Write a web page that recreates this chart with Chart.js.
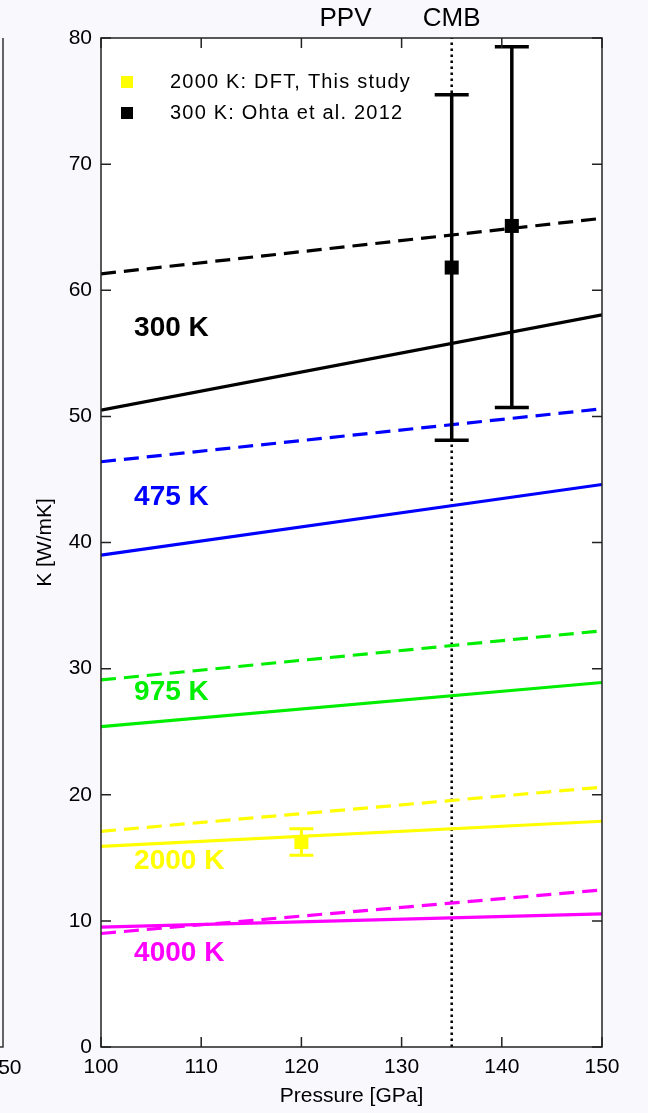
<!DOCTYPE html>
<html><head><meta charset="utf-8">
<script src="https://cdn.jsdelivr.net/npm/chart.js@4"></script>
<style>html,body{margin:0;padding:0;background:#f9f8fd;}canvas{display:block;}</style>
</head><body>
<canvas id="c" width="648" height="1113"></canvas>
<script>
// ---- data ----
const pressure = [100, 150];
const k300Dashed  = [61.3, 65.7];
const k300Solid   = [50.5, 58.05];
const k475Dashed  = [46.4, 50.6];
const k475Solid   = [39.0, 44.6];
const k975Dashed  = [29.1, 33.0];
const k975Solid   = [25.4, 28.9];
const k2000Dashed = [17.1, 20.6];
const k2000Solid  = [15.9, 17.9];
const k4000Dashed = [9.0, 12.45];
const k4000Solid  = [9.5, 10.55];
const dftP = [120];   const dftK = [16.25];  const dftLo = [15.2];  const dftHi = [17.3];
const ohtaP = [135, 141]; const ohtaK = [61.8, 65.1]; const ohtaLo = [48.1, 50.7]; const ohtaHi = [75.5, 79.3];
const cmbP = 135; const ppvP = 124.4;
const xTicks = [100, 110, 120, 130, 140, 150];
const yTicks = [0, 10, 20, 30, 40, 50, 60, 70, 80];
const tempLabels = ['300 K', '475 K', '975 K', '2000 K', '4000 K'];
const tempLabelY = [57.0, 43.6, 28.1, 14.7, 7.45];
const tempColors = ['#000000', '#0000ff', '#00ee00', '#ffff00', '#ff00ff'];
const legendLabels = ['2000 K: DFT, This study', '300 K: Ohta et al. 2012'];

const FONT = '"Liberation Sans", Arial, sans-serif';
const pts = arr => pressure.map((p, i) => ({x: p, y: arr[i]}));
function line(arr, color, dashed) {
  return {type: 'line', data: pts(arr), borderColor: color, borderWidth: 3.2,
    borderDash: dashed ? [15, 8] : [], pointRadius: 0, fill: false, tension: 0};
}
const datasets = [
  line(k300Dashed, tempColors[0], true), line(k300Solid, tempColors[0], false),
  line(k475Dashed, tempColors[1], true), line(k475Solid, tempColors[1], false),
  line(k975Dashed, tempColors[2], true), line(k975Solid, tempColors[2], false),
  line(k2000Dashed, tempColors[3], true), line(k2000Solid, tempColors[3], false),
  line(k4000Dashed, tempColors[4], true), line(k4000Solid, tempColors[4], false),
  {type: 'line', data: [{x: cmbP, y: 0}, {x: cmbP, y: 80}], borderColor: '#000', borderWidth: 2.5,
   borderDash: [2.5, 3.5], pointRadius: 0},
];

const errPlugin = {
  id: 'extras',
  beforeDraw(chart) {
    const {ctx, chartArea: a} = chart;
    ctx.save(); ctx.fillStyle = '#ffffff';
    ctx.fillRect(a.left, a.top, a.right - a.left, a.bottom - a.top);
    // partial left panel edge
    ctx.strokeStyle = '#333'; ctx.lineWidth = 1.5;
    ctx.beginPath(); ctx.moveTo(3, a.top); ctx.lineTo(3, a.bottom); ctx.lineTo(0, a.bottom); ctx.stroke();
    ctx.fillStyle = '#000'; ctx.font = '21px ' + FONT; ctx.textAlign = 'center'; ctx.textBaseline = 'middle';
    ctx.fillText('150', 4, 1068);
    ctx.restore();
  },
  afterDatasetsDraw(chart) {
    const {ctx, chartArea: a, scales: {x, y}} = chart;
    ctx.save();
    function errbar(p, k, lo, hi, color, cap, lw, size) {
      const px = x.getPixelForValue(p);
      ctx.strokeStyle = color; ctx.fillStyle = color; ctx.lineWidth = lw;
      ctx.beginPath();
      ctx.moveTo(px, y.getPixelForValue(lo)); ctx.lineTo(px, y.getPixelForValue(hi));
      ctx.moveTo(px - cap / 2, y.getPixelForValue(lo)); ctx.lineTo(px + cap / 2, y.getPixelForValue(lo));
      ctx.moveTo(px - cap / 2, y.getPixelForValue(hi)); ctx.lineTo(px + cap / 2, y.getPixelForValue(hi));
      ctx.stroke();
      const py = y.getPixelForValue(k);
      ctx.fillRect(px - size / 2, py - size / 2, size, size);
    }
    dftP.forEach((p, i) => errbar(p, dftK[i], dftLo[i], dftHi[i], '#ffff00', 24, 3, 14));
    ohtaP.forEach((p, i) => errbar(p, ohtaK[i], ohtaLo[i], ohtaHi[i], '#000000', 34, 3.5, 14));
    // temperature labels
    ctx.font = 'bold 28px ' + FONT; ctx.textAlign = 'left'; ctx.textBaseline = 'middle';
    tempLabels.forEach((t, i) => {
      ctx.fillStyle = tempColors[i];
      ctx.fillText(t, x.getPixelForValue(103.3), y.getPixelForValue(tempLabelY[i]));
    });
    // legend
    ctx.font = '20px ' + FONT; ctx.fillStyle = '#000';
    ctx.letterSpacing = '1.2px';
    const legColors = ['#ffff00', '#000000'];
    legendLabels.forEach((t, i) => {
      const ly = a.top + 44 + i * 31;
      ctx.fillStyle = legColors[i]; ctx.fillRect(a.left + 20, ly - 6, 12, 12);
      ctx.fillStyle = '#000'; ctx.fillText(t, a.left + 69, ly);
    });
    ctx.letterSpacing = '0px';
    // frame and inward ticks
    ctx.strokeStyle = '#222'; ctx.lineWidth = 1.5;
    ctx.strokeRect(a.left, a.top, a.right - a.left, a.bottom - a.top);
    ctx.beginPath();
    xTicks.forEach(v => {
      const px = x.getPixelForValue(v);
      ctx.moveTo(px, a.bottom); ctx.lineTo(px, a.bottom - 10);
      ctx.moveTo(px, a.top); ctx.lineTo(px, a.top + 10);
    });
    yTicks.forEach(v => {
      const py = y.getPixelForValue(v);
      ctx.moveTo(a.left, py); ctx.lineTo(a.left + 10, py);
      ctx.moveTo(a.right, py); ctx.lineTo(a.right - 10, py);
    });
    ctx.stroke();
    // top labels and axis titles
    ctx.fillStyle = '#000'; ctx.font = '26px ' + FONT; ctx.textAlign = 'center'; ctx.textBaseline = 'middle';
    ctx.fillText('PPV', x.getPixelForValue(ppvP), 19);
    ctx.fillText('CMB', x.getPixelForValue(cmbP), 19);
    ctx.font = '21px ' + FONT;
    ctx.fillText('Pressure [GPa]', (a.left + a.right) / 2, 1096);
    ctx.save(); ctx.translate(45, (a.top + a.bottom) / 2); ctx.rotate(-Math.PI / 2);
    ctx.fillText('K [W/mK]', 0, 0); ctx.restore();
    ctx.restore();
  }
};

new Chart(document.getElementById('c'), {
  type: 'line',
  data: {datasets},
  plugins: [errPlugin],
  options: {
    responsive: false, animation: false,
    layout: {padding: {left: 0, top: 38, right: 46, bottom: 0}},
    plugins: {legend: {display: false}, tooltip: {enabled: false}},
    scales: {
      x: {type: 'linear', min: 100, max: 150,
        afterBuildTicks: s => { s.ticks = xTicks.map(v => ({value: v})); },
        afterFit: s => { s.height = 66; },
        grid: {display: false, drawTicks: false}, border: {display: false},
        ticks: {padding: 8, color: '#000', font: {family: FONT, size: 21}}},
      y: {type: 'linear', min: 0, max: 80,
        afterBuildTicks: s => { s.ticks = yTicks.map(v => ({value: v})); },
        afterFit: s => { s.width = 101; },
        grid: {display: false, drawTicks: false}, border: {display: false},
        ticks: {padding: 9, color: '#000', font: {family: FONT, size: 21}}}
    }
  }
});
</script>
</body></html>
